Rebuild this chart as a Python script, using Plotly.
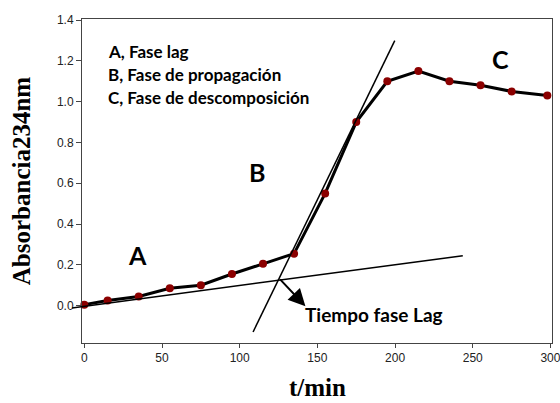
import plotly.graph_objects as go

# ---- data ----
t_min = [0, 15, 35, 55, 75, 95, 115, 135, 155, 175, 195, 215, 235, 255, 275, 298]
absorbance = [0.005, 0.025, 0.045, 0.085, 0.10, 0.155, 0.205, 0.255,
              0.55, 0.90, 1.10, 1.15, 1.10, 1.08, 1.05, 1.03]

# tangent lines (data units)
lag_line_x = [-7.9, 243.6]
lag_line_y = [-0.011, 0.245]
prop_line_x = [108.6, 199.8]
prop_line_y = [-0.129, 1.299]

x_ticks = [0, 50, 100, 150, 200, 250, 300]
y_ticks = [0.0, 0.2, 0.4, 0.6, 0.8, 1.0, 1.2, 1.4]

phase_labels = ["A", "B", "C"]
phase_x = [34, 111, 268]
phase_y = [0.25, 0.657, 1.207]

legend_lines = ["A, Fase lag", "B, Fase de propagación", "C, Fase de descomposición"]
legend_y = [1.245, 1.131, 1.022]
legend_x = 14.0

X_RANGE = [-1.5, 301]
Y_RANGE = [-0.183, 1.405]

def to_px(x):
    return (x - X_RANGE[0]) / (X_RANGE[1] - X_RANGE[0])

def to_py(y):
    return (y - Y_RANGE[0]) / (Y_RANGE[1] - Y_RANGE[0])

fig = go.Figure()

fig.add_trace(go.Scatter(
    x=t_min, y=absorbance, mode="lines+markers",
    line=dict(color="black", width=3),
    marker=dict(color="#8B0000", size=8),
    cliponaxis=False, showlegend=False,
))

shapes = []
for xs, ys in [(lag_line_x, lag_line_y), (prop_line_x, prop_line_y)]:
    shapes.append(dict(
        type="line", xref="paper", yref="paper",
        x0=to_px(xs[0]), y0=to_py(ys[0]), x1=to_px(xs[1]), y1=to_py(ys[1]),
        line=dict(color="black", width=1.5),
    ))

annotations = []
for lab, x, y in zip(phase_labels, phase_x, phase_y):
    annotations.append(dict(
        x=x, y=y, xref="x", yref="y", text=f"<b>{lab}</b>", showarrow=False,
        font=dict(family="Lato", size=25, color="black"),
    ))
for txt, y in zip(legend_lines, legend_y):
    annotations.append(dict(
        x=legend_x, y=y, xref="x", yref="y", text=f"<b>{txt}</b>", showarrow=False,
        xanchor="left", font=dict(family="Lato", size=17, color="black"),
    ))
annotations.append(dict(
    x=141.0, y=-0.044, xref="x", yref="y", text="<b>Tiempo fase Lag</b>", showarrow=False,
    xanchor="left", font=dict(family="Lato", size=19, color="black"),
))
annotations.append(dict(
    x=142.3, y=-0.003, xref="x", yref="y", ax=125.1, ay=0.136, axref="x", ayref="y",
    text="", showarrow=True, arrowhead=2, arrowsize=1.7, arrowwidth=2, arrowcolor="black",
))
# axis titles
annotations.append(dict(
    x=0.5, y=-0.138, xref="paper", yref="paper", text="<b>t/min</b>", showarrow=False,
    xanchor="center", yanchor="middle",
    font=dict(family="Liberation Serif", size=25, color="black"),
))
annotations.append(dict(
    x=-0.128, y=0.502, xref="paper", yref="paper", text="<b>Absorbancia234nm</b>", showarrow=False,
    xanchor="center", yanchor="middle", textangle=-90,
    font=dict(family="Liberation Serif", size=25, color="black"),
))

fig.update_layout(
    width=560, height=403,
    margin=dict(l=82, r=8, t=19, b=60),
    paper_bgcolor="white", plot_bgcolor="white",
    shapes=shapes, annotations=annotations,
    xaxis=dict(
        range=X_RANGE, tickvals=x_ticks, ticks="outside", ticklen=4, tickcolor="#444",
        showline=True, linecolor="#444", linewidth=1, mirror=True, showgrid=False, zeroline=False,
        tickfont=dict(family="Liberation Sans", size=12, color="#222"),
        automargin=False, ticklabeloverflow="allow",
    ),
    yaxis=dict(
        range=Y_RANGE, tickvals=y_ticks, tickformat=".1f", ticks="outside", ticklen=5, tickcolor="#444",
        showline=True, linecolor="#444", linewidth=1, mirror=True, showgrid=False, zeroline=False,
        tickfont=dict(family="Liberation Sans", size=12, color="#222"),
        automargin=False, ticklabeloverflow="allow",
    ),
)

fig.write_html("out.html")
